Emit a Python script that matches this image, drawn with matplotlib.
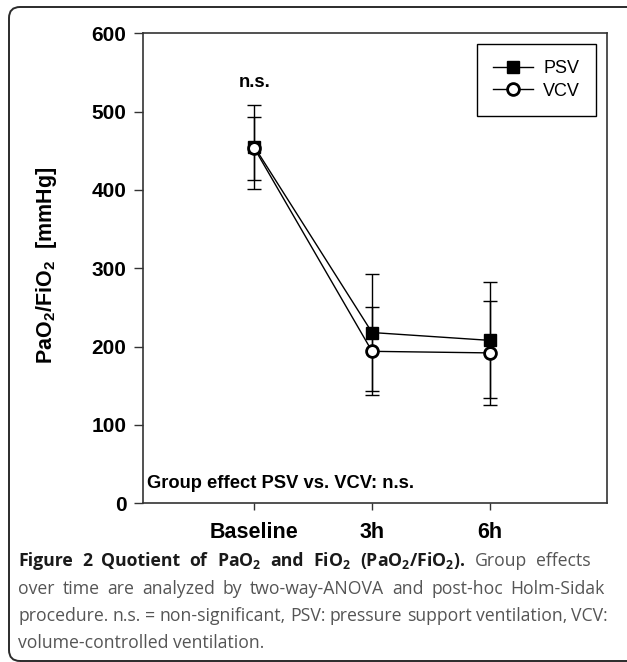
import matplotlib
matplotlib.use("Agg")
import matplotlib.pyplot as plt
from matplotlib.patches import FancyBboxPatch
from matplotlib.transforms import IdentityTransform

# ---- data ----
categories = ["Baseline", "3h", "6h"]
psv_mean = [455, 218, 208]
psv_sd = [54, 75, 74]
vcv_mean = [453, 194, 192]
vcv_sd = [40, 56, 66]
yticks = [0, 100, 200, 300, 400, 500, 600]

plt.rcParams['mathtext.fontset'] = 'custom'
plt.rcParams['mathtext.rm'] = 'Liberation Sans:bold'
plt.rcParams['mathtext.bf'] = 'Open Sans:bold'
plt.rcParams['font.family'] = ['Liberation Sans', 'DejaVu Sans']

W, H = 627, 662
fig = plt.figure(figsize=(W / 100, H / 100), dpi=100)

# rounded border (right side runs off the image)
border = FancyBboxPatch((9, 1), 1200, 654, boxstyle="round,pad=0,rounding_size=11",
                        transform=IdentityTransform(), fill=False,
                        edgecolor='#2b2b2b', linewidth=1.4)
fig.patches.append(border)

left, right, top, bottom = 142.7, 607.3, 33.3, 503.3
ax = fig.add_axes([left / W, 1 - bottom / H, (right - left) / W, (bottom - top) / H])

x = [1, 2, 3]
ekw = dict(fmt='none', ecolor='black', elinewidth=1.0, capsize=5.2, capthick=1.0, zorder=2)
ax.errorbar(x, psv_mean, yerr=psv_sd, **ekw)
ax.errorbar(x, vcv_mean, yerr=vcv_sd, **ekw)
l1, = ax.plot(x, psv_mean, color='black', lw=1.0, marker='s', markersize=8.5,
              markerfacecolor='black', markeredgecolor='black', zorder=3, label='PSV')
l2, = ax.plot(x, vcv_mean, color='black', lw=1.0, marker='o', markersize=8.5,
              markerfacecolor='white', markeredgecolor='black', markeredgewidth=2.0,
              zorder=4, label='VCV')

ax.set_xlim(0.05, 4.0)
ax.set_ylim(0, 600)
ax.set_xticks(x)
ax.set_xticklabels(categories, fontsize=15.5, fontweight='bold')
ax.set_yticks(yticks)
ax.set_yticklabels([str(v) for v in yticks], fontsize=15, fontweight='bold')
ax.tick_params(axis='x', length=5.3, width=1.0, pad=8, color='#333333')
ax.tick_params(axis='y', length=6.8, width=1.0, pad=5, color='#333333')
for s in ax.spines.values():
    s.set_color('#333333')
    s.set_linewidth(1.2)

leg = ax.legend(handles=[l1, l2], loc='upper right', fontsize=13, frameon=True,
                fancybox=False, edgecolor='black', framealpha=1,
                borderaxespad=0.6, borderpad=0.9, labelspacing=0.3,
                handlelength=2.2, handletextpad=0.6)
leg.get_frame().set_linewidth(1.0)

ax.text(1, 531, "n.s.", ha='center', va='baseline', fontsize=13.2, fontweight='bold')
ax.text(0.01, 19.5, "Group effect PSV vs. VCV: n.s.", transform=ax.get_yaxis_transform(),
        ha='left', va='baseline', fontsize=13.2, fontweight='bold')

fig.text(47 / W, 1 - 265 / H, r'PaO$_\mathrm{2}$/FiO$_\mathrm{2}$  [mmHg]', rotation=90,
         ha='center', va='center', fontsize=15.5, fontweight='bold')

# ---- caption (justified paragraph) ----
cap_fs = 12.7
gray = '#555555'
dark = '#1a1a1a'
x0 = 18
renderer = fig.canvas.get_renderer()

line1 = [("Figure", True), ("2", True), ("Quotient", True), ("of", True),
         (r"PaO$_\mathbf{2}$", True), ("and", True), (r"FiO$_\mathbf{2}$", True),
         (r"(PaO$_\mathbf{2}$/FiO$_\mathbf{2}$).", True), ("Group", False), ("effects", False)]
line2 = [(w, False) for w in "over time are analyzed by two-way-ANOVA and post-hoc Holm-Sidak".split()]
line3 = [(w, False) for w in
         "procedure. n.s. = non-significant, PSV: pressure support ventilation, VCV:".split()]
line4 = [(w, False) for w in "volume-controlled ventilation.".split()]


def place_line(words, ybase, x_right=None):
    texts, widths = [], []
    for w, b in words:
        t = fig.text(0, 1 - ybase / H, w, family='Open Sans',
                     fontweight='bold' if b else 'normal', fontsize=cap_fs,
                     color=dark if b else gray, va='baseline', ha='left')
        texts.append(t)
        widths.append(t.get_window_extent(renderer).width)
    if x_right is not None and len(words) > 1:
        gap = (x_right - x0 - sum(widths)) / (len(words) - 1)
    else:
        gap = cap_fs * 100 / 72 * 0.26
    xx = x0
    for t, wd in zip(texts, widths):
        t.set_x(xx / W)
        xx += wd + gap


place_line(line1, 566, 591)
place_line(line2, 594, 605)
place_line(line3, 621, 608)
place_line(line4, 648)

fig.savefig('out.png', dpi=100)
